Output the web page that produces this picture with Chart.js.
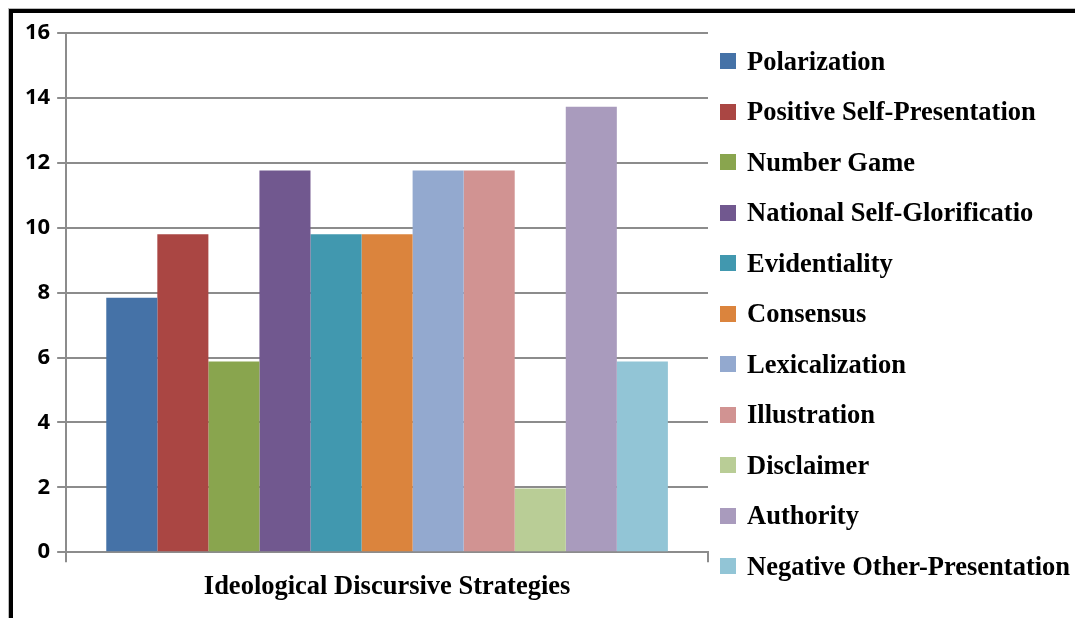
<!DOCTYPE html>
<html>
<head>
  <title>Ideological Discursive Strategies</title>
  <script src="https://cdn.jsdelivr.net/npm/chart.js"></script>
  <style>
    body { margin: 0; background: #fff; }
    #wrap { position: relative; width: 1075px; height: 618px; overflow: hidden; }
    #frame { position: absolute; left: 9px; top: 9px; width: 1100px; height: 700px;
             border-left: 4px solid #000; border-top: 4px solid #000;
             box-shadow: -1px -1px 0 #bbb; }
    #myChart { position: absolute; left: 0; top: 0; }
    #legend { position: absolute; left: 720px; top: 36px; margin: 0; padding: 0; list-style: none;
              font-family: "Liberation Serif", "Times New Roman", serif; font-weight: bold; font-size: 26.5px; }
    #legend li { height: 50.5px; display: flex; align-items: center; white-space: nowrap; color: #000; }
    #legend span { display: inline-block; width: 16px; height: 16px; margin-right: 11px; }
  </style>
</head>
<body>
  <div id="wrap">
    <div id="frame"></div>
    <canvas id="myChart" width="1075" height="618"></canvas>
    <ul id="legend"></ul>
  </div>
  <script>
    var categories = ['Ideological Discursive Strategies'];
    var strategies = ['Polarization', 'Positive Self-Presentation', 'Number Game', 'National Self-Glorificatio',
      'Evidentiality', 'Consensus', 'Lexicalization', 'Illustration', 'Disclaimer', 'Authority',
      'Negative Other-Presentation'];
    var values = [7.84, 9.8, 5.88, 11.76, 9.8, 9.8, 11.76, 11.76, 1.96, 13.73, 5.88];
    var colors = ['#4572A7', '#AA4643', '#89A54E', '#71588F', '#4198AF', '#DB843D',
      '#93A9CF', '#D19392', '#B9CD96', '#A99BBD', '#92C5D6'];
    var yTicks = [0, 2, 4, 6, 8, 10, 12, 14, 16];

    var datasets = strategies.map(function(name, i) {
      return {
        label: name,
        data: [values[i]],
        backgroundColor: colors[i],
        borderWidth: 0
      };
    });

    // html legend built from the chart's own legend items
    var htmlLegend = {
      id: 'htmlLegend',
      afterUpdate: function(chart) {
        var ul = document.getElementById('legend');
        ul.innerHTML = '';
        chart.options.plugins.legend.labels.generateLabels(chart).forEach(function(item) {
          var li = document.createElement('li');
          var box = document.createElement('span');
          box.style.background = item.fillStyle;
          li.appendChild(box);
          li.appendChild(document.createTextNode(item.text));
          ul.appendChild(li);
        });
      }
    };

    var ctx = document.getElementById('myChart').getContext('2d');
    var myChart = new Chart(ctx, {
      type: 'bar',
      data: { labels: categories, datasets: datasets },
      plugins: [htmlLegend],
      options: {
        responsive: false,
        animation: false,
        layout: { padding: { left: 18, top: 33, right: 367, bottom: 6 } },
        datasets: { bar: { categoryPercentage: 0.875, barPercentage: 1 } },
        plugins: {
          legend: { display: false },
          tooltip: { enabled: false }
        },
        scales: {
          x: {
            grid: { drawOnChartArea: false, color: '#8c8c8c', lineWidth: 2, tickLength: 10 },
            border: { color: '#8c8c8c', width: 2 },
            ticks: {
              color: '#000',
              padding: 9,
              font: { family: '"Liberation Serif", "Times New Roman", serif', weight: 'bold', size: 26.5 }
            }
          },
          y: {
            min: 0,
            max: 16,
            afterBuildTicks: function(axis) {
              axis.ticks = yTicks.map(function(v) { return { value: v }; });
            },
            grid: { color: '#8c8c8c', lineWidth: 2, tickLength: 9 },
            border: { color: '#8c8c8c', width: 2 },
            ticks: {
              color: '#000',
              padding: 7,
              font: { family: '"Open Sans", sans-serif', weight: 'bold', size: 22 }
            }
          }
        }
      }
    });
  </script>
</body>
</html>
